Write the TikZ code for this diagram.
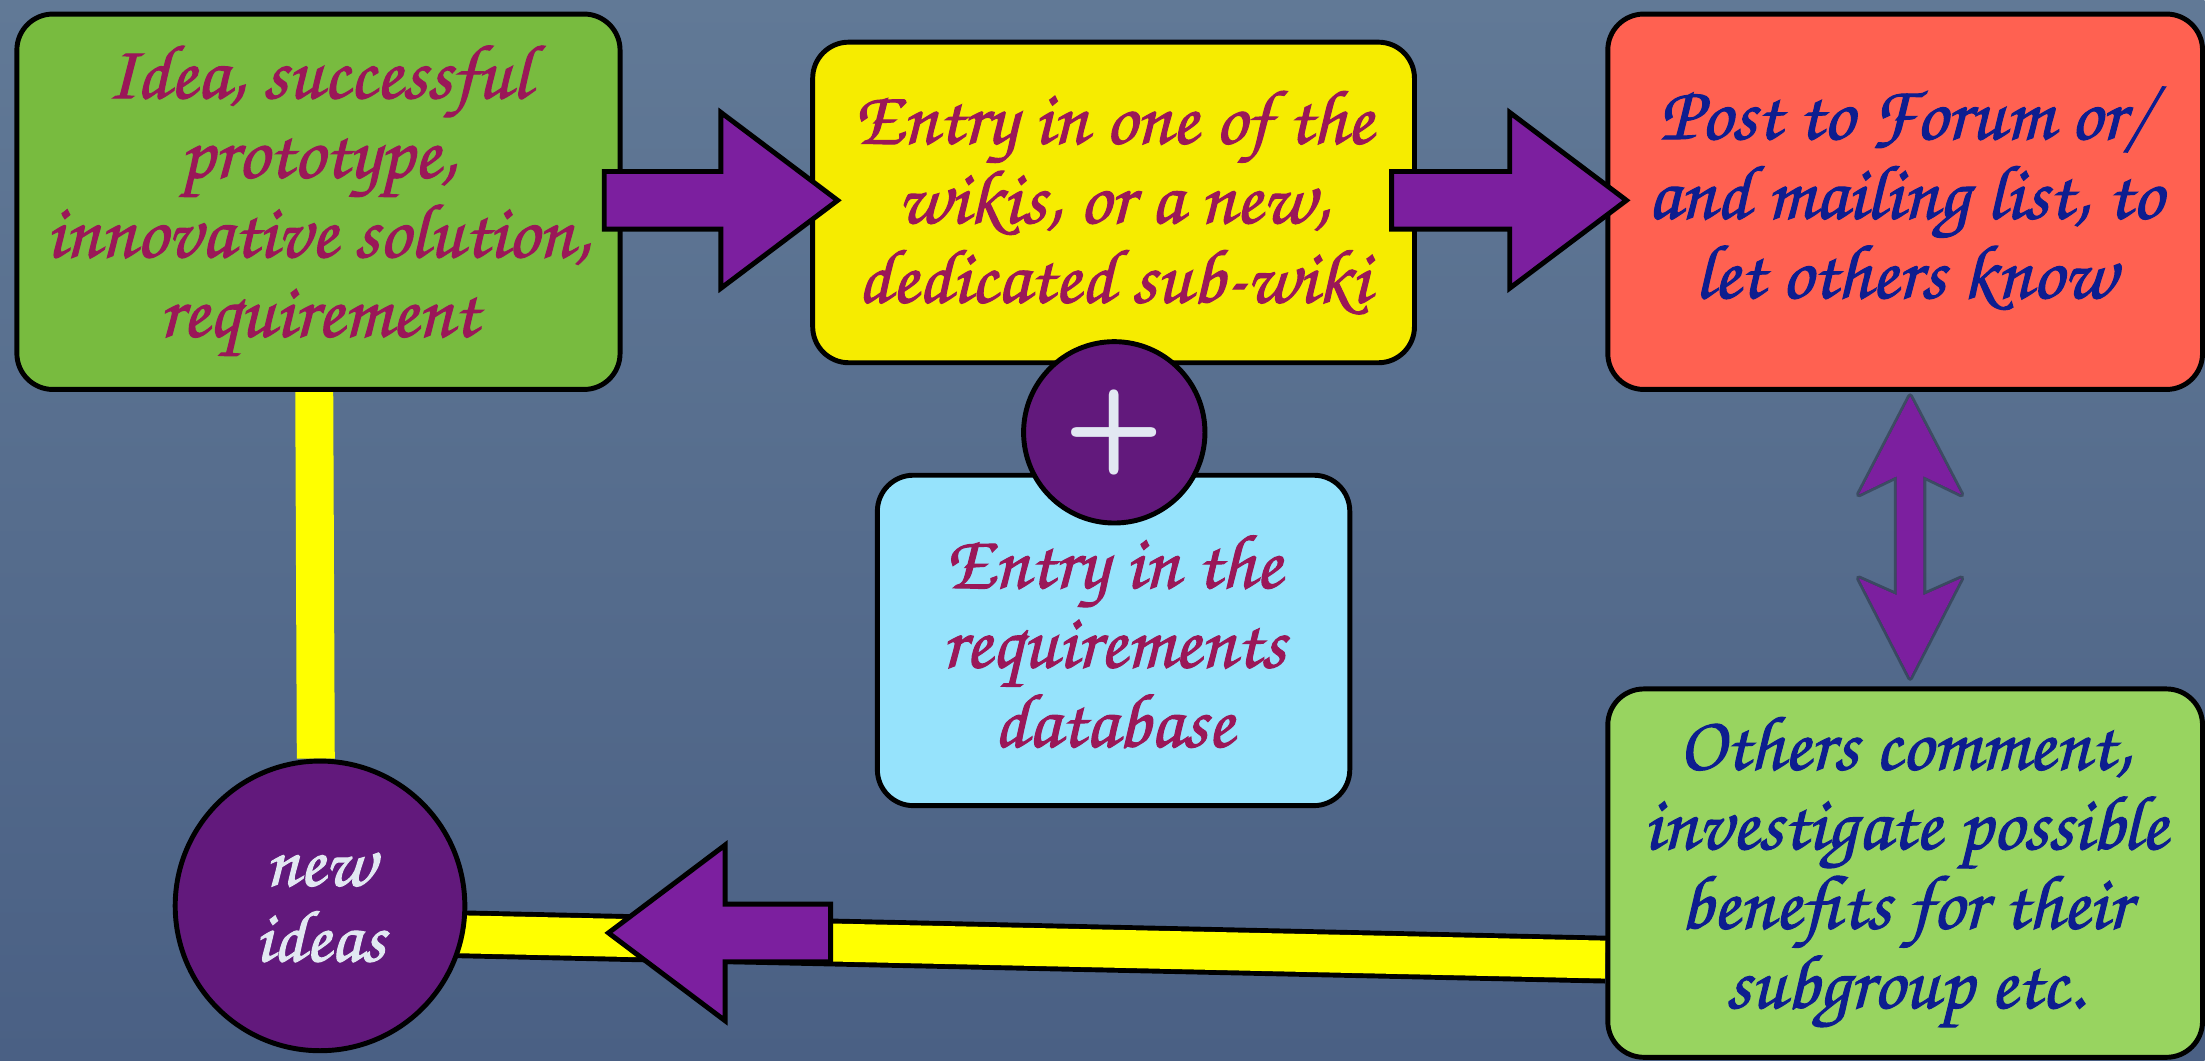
\documentclass[tikz,border=0pt]{standalone}
\usepackage[T1]{fontenc}
\usetikzlibrary{calc}
\newcommand\pxu{0.01406cm}
\newcommand\handfont{\fontfamily{pzc}\fontseries{m}\fontshape{it}\fontsize{22}{22.6}\selectfont}
\newcommand\plusfont{\fontencoding{TU}\fontfamily{lmss}\fontseries{bx}\fontshape{n}\fontsize{33}{33}\selectfont}
% heavier pen for the script lettering: fill and stroke the glyphs
\newcommand\inked[1]{\special{pdf:literal direct 2 Tr 0.3 w}#1\special{pdf:literal direct 0 Tr}}
\definecolor{paperTop}{HTML}{617996}
\definecolor{paperBot}{HTML}{4A6084}
\definecolor{leafgreen}{HTML}{78BB3F}
\definecolor{palegreen}{HTML}{98D460}
\definecolor{lemon}{HTML}{F6EC00}
\definecolor{coral}{HTML}{FF6151}
\definecolor{skyblue}{HTML}{96E3FC}
\definecolor{plum}{HTML}{62197C}
\definecolor{violet}{HTML}{7C1F9F}
\definecolor{wine}{HTML}{9A1758}
\definecolor{navy}{HTML}{0D1D8F}
\definecolor{chalk}{HTML}{E2E8F2}
\definecolor{barYellow}{HTML}{FFFF00}
\pgfdeclarelayer{paper}
\pgfdeclarelayer{links}
\pgfsetlayers{paper,links,main}
\begin{document}
\begin{tikzpicture}[x=\pxu, y=-\pxu,
  card/.style={draw=black, line width=1.4pt, rounded corners=0.36cm,
    align=center, inner sep=0pt, font=\handfont},
  disc/.style={circle, draw=black, line width=1.4pt, fill=plum, inner sep=0pt},
  blockline/.style={draw=black, line width=1.4pt, fill=violet, line join=miter},
  pics/blockarrow/.style={code={
    \path[blockline] (0,-20.5) -- (#1,-20.5) -- (#1,-62.5) -- ({#1+83},0)
      -- (#1,62.5) -- (#1,20.5) -- (0,20.5) -- cycle;}}]

% boxes
\node[card, fill=leafgreen, text=wine, minimum width={429*\pxu}, minimum height={267*\pxu}]
  (idea) at (226.5,143.5) {\inked{Idea, successful\\prototype,\\innovative solution,\\requirement}};
\node[card, fill=lemon, text=wine, minimum width={428*\pxu}, minimum height={228*\pxu}]
  (wiki) at (792,144) {\inked{Entry in one of the\\wikis, or a new,\\dedicated sub-wiki}};
\node[card, fill=coral, text=navy, minimum width={423*\pxu}, minimum height={267*\pxu}]
  (post) at (1355,143.5) {\inked{Post to Forum or/\\and mailing list, to\\let others know}};
\node[card, fill=skyblue, text=wine, minimum width={336*\pxu}, minimum height={235*\pxu}]
  (reqdb) at (792,455.5) {\inked{Entry in the\\requirements\\database}};
\node[card, fill=palegreen, text=navy, minimum width={423*\pxu}, minimum height={262*\pxu}]
  (others) at (1355,621) {\inked{Others comment,\\investigate possible\\benefits for their\\subgroup etc.}};

% circles
\node[disc, minimum size={129*\pxu}, text=chalk, font=\plusfont]
  (plus) at (792.5,307.5) {\raisebox{0.14cm}{+}};
\node[disc, minimum size={206*\pxu}, text=chalk, align=center,
  font=\handfont\fontsize{21}{21.5}\selectfont]
  (newideas) at (227.6,644.3) {\inked{new\\ideas}};

% block arrows between the top boxes and on the return path
\pic at ($(idea.east)+(-13,-1)$) {blockarrow=83};
\pic at ($(wiki.east)+(-18,-1.5)$) {blockarrow=84};
\pic[xscale=-1] at ($(newideas.east)+(258.4,19.2)$) {blockarrow=75};

% two-way arrow between forum post and comments
\path ($(post.south)+(3.5,3)$) coordinate (dt) ($(others.north)+(3.5,-6)$) coordinate (db);
\path[fill=black, opacity=0.3, draw=black, line width=1.6pt, line join=round]
  (dt) -- ($(dt)+(36.5,70)$) -- ($(dt)+(9.5,57)$) -- ($(db)+(9.5,-59)$)
  -- ($(db)+(36.5,-71)$) -- (db) -- ($(db)+(-36.5,-71)$) -- ($(db)+(-9.5,-59)$)
  -- ($(dt)+(-9.5,57)$) -- ($(dt)+(-36.5,70)$) -- cycle;
\fill[violet]
  (dt) -- ($(dt)+(36.5,70)$) -- ($(dt)+(9.5,57)$) -- ($(db)+(9.5,-59)$)
  -- ($(db)+(36.5,-71)$) -- (db) -- ($(db)+(-36.5,-71)$) -- ($(db)+(-9.5,-59)$)
  -- ($(dt)+(-9.5,57)$) -- ($(dt)+(-36.5,70)$) -- cycle;

% yellow feedback links
\begin{pgfonlayer}{links}
  \draw[barYellow, line width={27*\pxu}]
    ([xshift={-3*\pxu}]idea.south) -- ([xshift={-3*\pxu}]newideas.north);
  \draw[black, line width={34*\pxu}]
    ([yshift={-18*\pxu}]newideas.center) -- ([yshift={-61.5*\pxu}]others.west);
  \draw[barYellow, line width={27*\pxu}]
    ([yshift={-18*\pxu}]newideas.center) -- ([yshift={-61.5*\pxu}]others.west);
\end{pgfonlayer}

% textured backdrop
\begin{pgfonlayer}{paper}
  \shade[top color=paperTop, bottom color=paperBot] (0,0) rectangle (1568,754);
\end{pgfonlayer}
\useasboundingbox (0,0) rectangle (1568,754);
\end{tikzpicture}
\end{document}
